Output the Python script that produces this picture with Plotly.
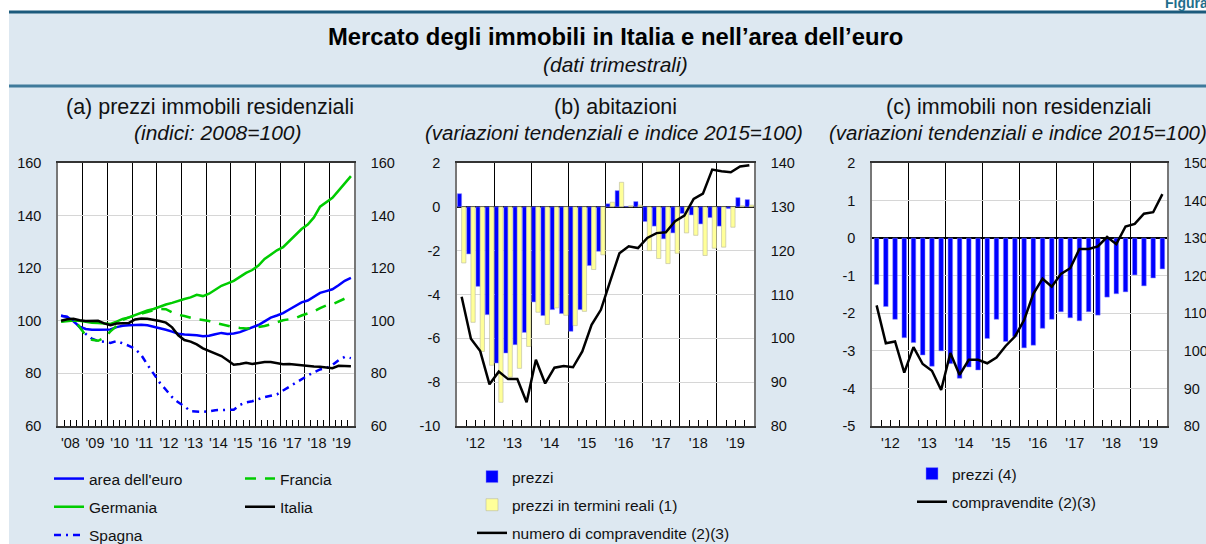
import plotly.graph_objects as go

W, H = 1206, 544
FONT = "Liberation Sans, Arial, Helvetica, sans-serif"

# (a) prezzi immobili residenziali, trimestrali 2008Q1-2019Q4 (indici 2008=100)
years_a = list(range(2008, 2020))
area_euro = [101.9, 101.5, 99.8, 97.8, 96.9, 96.6, 96.6, 96.6,
             96.7, 97.6, 98.1, 98.3, 98.4, 98.5, 98.3, 97.8,
             97.2, 96.6, 95.9, 95.1, 94.8, 94.7, 94.5, 94.1,
             94.3, 94.9, 95.4, 95.0, 95.2, 95.7, 96.6, 97.4,
             98.4, 99.8, 101.2, 102.0, 102.9, 104.3, 105.8, 107.0,
             107.7, 109.3, 110.6, 111.3, 112.0, 113.5, 115.2, 116.3]
francia = [99.7, 100.4, 100.8, 97.8, 94.5, 92.8, 92.4, 93.5,
           96.0, 98.0, 100.3, 101.3, 102.0, 102.8, 103.5, 104.0,
           104.5, 104.4, 103.2, 102.3, 101.8, 101.2, 100.6, 100.3,
           99.9, 99.2, 98.6, 98.2, 97.6, 97.3, 97.1, 97.2,
           97.6, 98.0, 98.7, 99.5, 100.2, 100.6, 101.0, 102.0,
           102.8, 103.6, 104.8, 105.8, 106.3, 107.3, 108.5, 109.5]
germania = [99.6, 99.9, 100.1, 100.0, 99.6, 99.3, 99.2, 99.1,
            98.8, 99.7, 100.7, 101.3, 102.2, 103.1, 103.9, 104.5,
            105.5, 106.2, 106.8, 107.6, 108.3, 108.9, 109.9, 109.4,
            110.3, 111.8, 113.3, 114.2, 115.2, 116.7, 118.2, 119.3,
            121.0, 123.5, 125.3, 126.8, 128.0, 130.3, 132.8, 134.9,
            136.6, 139.3, 143.4, 145.2, 146.8, 149.5, 152.3, 155.0]
italia = [100.0, 100.6, 100.8, 100.2, 99.9, 100.0, 100.0, 99.0,
          98.3, 99.0, 99.2, 99.2, 100.5, 100.9, 100.8, 100.4,
          99.9, 99.3, 97.5, 94.5, 92.7, 92.1, 91.0, 89.5,
          88.5, 87.6, 86.6, 85.0, 83.3, 83.6, 84.0, 83.6,
          84.0, 84.3, 84.3, 84.0, 83.5, 83.6, 83.3, 83.2,
          82.8, 82.6, 82.5, 82.2, 82.0, 82.9, 82.8, 82.7]
spagna = [101.9, 101.5, 100.2, 97.5, 95.0, 93.2, 92.3, 92.0,
          91.6, 92.3, 91.5, 90.5, 89.3, 87.0, 83.3, 80.0,
          76.5, 73.8, 71.0, 69.0, 67.5, 65.6, 65.5, 65.4,
          65.6, 66.0, 66.1, 66.1, 66.2, 68.0, 69.0, 69.4,
          70.2, 71.0, 71.5, 72.0, 73.5, 75.0, 76.4, 77.8,
          79.2, 80.4, 81.5, 82.0, 83.2, 85.0, 86.3, 85.8]

# (b) abitazioni, trimestrali 2012Q1-2019Q4
years_bc = list(range(2012, 2020))
ab_prezzi = [0.6, -2.15, -3.63, -4.92, -7.13, -6.67, -6.29, -5.73,
             -4.34, -4.96, -4.69, -4.87, -5.68, -4.69, -2.68, -2.03,
             0.14, 0.74, 0.02, 0.24, -0.67, -0.88, -1.46, -1.19,
             -0.3, -0.37, -0.78, -0.49, -0.88, -0.08, 0.42, 0.33]
ab_prezzi_reali = [-2.56, -5.27, -6.6, -7.23, -8.92, -7.77, -7.37, -6.37,
                   -4.81, -5.37, -4.61, -4.95, -5.42, -4.77, -2.86, -2.19,
                   0.21, 1.12, 0.05, 0.08, -2.0, -2.36, -2.59, -2.12,
                   -1.19, -1.3, -2.22, -1.89, -1.84, -0.93, 0.05, 0.08]
ab_compravendite = [109.5, 99.9, 97.1, 89.5, 92.4, 90.7, 90.7, 85.4,
                    95.1, 89.7, 93.3, 93.7, 93.4, 97.0, 103.1, 106.5,
                    113.0, 119.4, 121.0, 120.6, 122.9, 124.0, 124.2, 126.7,
                    128.0, 131.8, 133.0, 138.5, 138.1, 137.9, 139.2, 139.5]

# (c) immobili non residenziali, trimestrali 2012Q1-2019Q4
nr_prezzi = [-1.23, -1.82, -2.16, -2.65, -2.78, -3.11, -3.41, -3.0,
             -3.34, -3.73, -3.43, -3.51, -2.67, -2.16, -2.75, -2.62,
             -2.92, -2.85, -2.4, -2.16, -1.96, -2.12, -2.2, -1.96,
             -2.05, -1.57, -1.48, -1.43, -0.98, -1.27, -1.06, -0.82]
nr_compravendite = [112.1, 102.0, 102.5, 94.2, 101.0, 96.5, 94.7, 89.6,
                    99.4, 93.6, 97.6, 97.6, 96.7, 98.2, 101.3, 103.8,
                    108.2, 115.2, 119.2, 117.1, 120.5, 122.0, 127.1, 127.1,
                    127.8, 130.3, 128.4, 133.1, 133.8, 136.5, 136.9, 141.7]

ticks_a = [60, 80, 100, 120, 140, 160]
ticks_b_left = [-10, -8, -6, -4, -2, 0, 2]
ticks_b_right = [80, 90, 100, 110, 120, 130, 140]
ticks_c_left = [-5, -4, -3, -2, -1, 0, 1, 2]
ticks_c_right = [80, 90, 100, 110, 120, 130, 140, 150]


def quarter_x(years):
    return [y + (q + 0.5) / 4 for y in years for q in range(4)]


def year_axis(years, left, right, anchor):
    inner = [y + k / 4 for y in years for k in (1, 2, 3)]
    labels = ["'%02d" % (y % 100) if k == 2 else "" for y in years for k in (1, 2, 3)]
    return dict(
        domain=[left / W, right / W], anchor=anchor, range=[years[0], years[-1] + 1],
        tickmode='array', tickvals=inner, ticktext=labels,
        ticks='inside', ticklen=6, tickwidth=1, tickcolor='black',
        showgrid=False, zeroline=False, automargin=False,
        showline=True, linecolor='#333333', linewidth=1.5, mirror=True,
        minor=dict(tickmode='array', tickvals=years[1:], showgrid=True,
                   gridcolor='black', gridwidth=1, ticks=''),
        tickfont=dict(size=14.5), ticklabelstandoff=3, fixedrange=True,
    )


def value_axis(vals, anchor, side='left', overlaying=None, zero=False):
    ax = dict(
        anchor=anchor, range=[vals[0], vals[-1]], side=side,
        tickmode='array', tickvals=vals, ticktext=[str(v) for v in vals],
        showline=True, linecolor='#777777', linewidth=1.5, automargin=False,
        showgrid=overlaying is None, gridcolor='#d6d6d6', gridwidth=1,
        zeroline=zero, zerolinecolor='black', zerolinewidth=1.5,
        ticks='', ticklabelstandoff=12, tickfont=dict(size=14.5), fixedrange=True,
    )
    if overlaying:
        ax['overlaying'] = overlaying
    else:
        ax['domain'] = [1 - 426 / H, 1 - 163 / H]
    return ax


qa = quarter_x(years_a)
qbc = quarter_x(years_bc)

fig = go.Figure()

# panel (a)
lines_a = [
    ('area dell\'euro', area_euro, '#0000ff', 'solid', 'legend'),
    ('Germania', germania, '#00cc00', 'solid', 'legend'),
    ('Spagna', spagna, '#0000ff', '7px,5px,2px,5px', 'legend'),
    ('Francia', francia, '#00cc00', '11px,9px', 'legend2'),
    ('Italia', italia, 'black', 'solid', 'legend2'),
]
for name, vals, color, dash, leg in lines_a:
    fig.add_trace(go.Scatter(
        x=qa, y=vals, mode='lines', name=name, legend=leg, legendgroup=name,
        line=dict(color=color, width=2.5, dash=dash),
        xaxis='x', yaxis='y'))
fig.add_trace(go.Scatter(x=[qa[0]], y=[None], mode='lines', showlegend=False,
                         xaxis='x', yaxis='y2', hoverinfo='skip'))

# panel (b)
fig.add_trace(go.Bar(
    x=qbc, y=ab_prezzi, width=0.115, offset=-0.115, name='prezzi',
    legend='legend3', legendgroup='b1',
    marker=dict(color='#0000ff', line=dict(color='#8c8cff', width=0.5)),
    xaxis='x2', yaxis='y3'))
fig.add_trace(go.Bar(
    x=qbc, y=ab_prezzi_reali, width=0.115, offset=0, name='prezzi in termini reali (1)',
    legend='legend3', legendgroup='b2',
    marker=dict(color='#ffff99', line=dict(color='#b8b8a0', width=0.6)),
    xaxis='x2', yaxis='y3'))
fig.add_trace(go.Scatter(
    x=qbc, y=ab_compravendite, mode='lines', name='numero di compravendite (2)(3)',
    legend='legend3', legendgroup='b3',
    line=dict(color='black', width=2.5), xaxis='x2', yaxis='y4'))

# panel (c)
fig.add_trace(go.Bar(
    x=qbc, y=nr_prezzi, width=0.125, offset=-0.0625, name='prezzi (4)',
    legend='legend4', legendgroup='c1',
    marker=dict(color='#0000ff', line=dict(color='#8c8cff', width=0.5)),
    xaxis='x3', yaxis='y5'))
fig.add_trace(go.Scatter(
    x=qbc, y=nr_compravendite, mode='lines', name='compravendite (2)(3)',
    legend='legend4', legendgroup='c2',
    line=dict(color='black', width=2.5), xaxis='x3', yaxis='y6'))

legend_style = dict(xanchor='left', yanchor='top', bgcolor='rgba(0,0,0,0)',
                    font=dict(size=15.5, color='#111111'), tracegroupgap=5,
                    orientation='v', itemclick=False, itemdoubleclick=False)

fig.update_layout(
    width=W, height=H, autosize=False,
    margin=dict(l=0, r=0, t=0, b=0, pad=0, autoexpand=False),
    paper_bgcolor='#dde8f1', plot_bgcolor='white',
    font=dict(family=FONT, size=14, color='#111111'),
    barmode='overlay',
    xaxis=year_axis(years_a, 58, 354, 'y'),
    xaxis2=year_axis(years_bc, 457, 754, 'y3'),
    xaxis3=year_axis(years_bc, 872, 1167, 'y5'),
    yaxis=value_axis(ticks_a, 'x'),
    yaxis2=value_axis(ticks_a, 'x', side='right', overlaying='y'),
    yaxis3=value_axis(ticks_b_left, 'x2', zero=True),
    yaxis4=value_axis(ticks_b_right, 'x2', side='right', overlaying='y3'),
    yaxis5=value_axis(ticks_c_left, 'x3', zero=True),
    yaxis6=value_axis(ticks_c_right, 'x3', side='right', overlaying='y5'),
    legend=dict(legend_style, x=49 / W, y=1 - 462 / H),
    legend2=dict(legend_style, x=240 / W, y=1 - 462 / H),
    legend3=dict(legend_style, x=472 / W, y=1 - 460 / H),
    legend4=dict(legend_style, x=912 / W, y=1 - 457 / H),
    showlegend=True,
)

# page frame: white edges, dark rules round the title band
fig.add_shape(type='rect', xref='paper', yref='paper', x0=0, x1=9 / W, y0=0, y1=1,
              fillcolor='white', line=dict(width=0), layer='above')
fig.add_shape(type='rect', xref='paper', yref='paper', x0=0, x1=1, y0=1 - 11 / H, y1=1,
              fillcolor='white', line=dict(width=0), layer='above')
fig.add_shape(type='line', xref='paper', yref='paper', x0=9 / W, x1=1,
              y0=1 - 12 / H, y1=1 - 12 / H, line=dict(color='#1b5a7c', width=3))
fig.add_shape(type='line', xref='paper', yref='paper', x0=9 / W, x1=1,
              y0=1 - 86 / H, y1=1 - 86 / H, line=dict(color='#3f7a9b', width=3))

texts = [
    ('<b>Figura 1.</b>', 1163, 3, 14, '#1f6e8c', 'left'),
    ('<b>Mercato degli immobili in Italia e nell’area dell’euro</b>', 615, 37, 23.8, '#000000', 'center'),
    ('<i>(dati trimestrali)</i>', 615, 64, 21, '#111111', 'center'),
    ('(a) prezzi immobili residenziali', 210, 107, 21.5, '#111111', 'center'),
    ('<i>(indici: 2008=100)</i>', 218, 132, 21, '#111111', 'center'),
    ('(b) abitazioni', 615, 107, 21.5, '#111111', 'center'),
    ('<i>(variazioni tendenziali e indice 2015=100)</i>', 614, 132, 20.5, '#111111', 'center'),
    ('(c) immobili non residenziali', 1018, 107, 21.5, '#111111', 'center'),
    ('<i>(variazioni tendenziali e indice 2015=100)</i>', 1018, 132, 20.5, '#111111', 'center'),
]
for text, x, y, size, color, anchor in texts:
    fig.add_annotation(text=text, xref='paper', yref='paper', x=x / W, y=1 - y / H,
                       xanchor=anchor, yanchor='middle', showarrow=False,
                       font=dict(size=size, color=color, family=FONT))

# the page body has a default margin; drop it so the figure fills the window
fig.write_html("out.html", config={'displayModeBar': False},
               post_script="document.body.style.margin='0';"
                           "document.documentElement.style.overflow='hidden';")
